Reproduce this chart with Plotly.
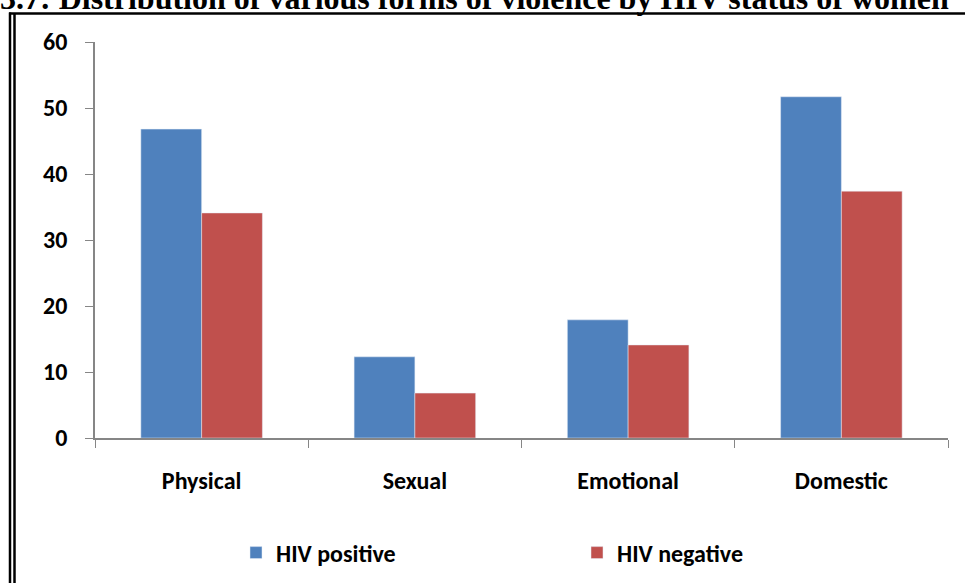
import plotly.graph_objects as go

BLUE = "#4F81BD"
RED = "#C0504D"
AXIS = "#868686"

categories = ["Physical", "Sexual", "Emotional", "Domestic"]
hiv_positive = [46.8, 12.3, 17.9, 51.7]
hiv_negative = [34.1, 6.8, 14.1, 37.4]
y_ticks = [0, 10, 20, 30, 40, 50, 60]

W, H = 965, 583
L, R, T, B = 95, 17, 42, 145
PW, PH = W - L - R, H - T - B


def px_x(x):
    return (x - L) / PW


def px_y(y):
    return (H - B - y) / PH


FONT = dict(family="Calibri, Carlito, Lato, sans-serif", size=24, color="black", weight="bold")

fig = go.Figure()
fig.add_trace(go.Bar(x=categories, y=hiv_positive, name="HIV positive", marker=dict(color=BLUE)))
fig.add_trace(go.Bar(x=categories, y=hiv_negative, name="HIV negative", marker=dict(color=RED)))

fig.update_layout(
    width=W, height=H,
    margin=dict(l=L, r=R, t=T, b=B, autoexpand=False),
    paper_bgcolor="white", plot_bgcolor="white",
    barmode="group", bargap=0.43, bargroupgap=0,
    font=FONT,
    legend=dict(
        orientation="h", x=px_x(236), xanchor="left", y=px_y(553), yanchor="middle",
        entrywidth=296, font=FONT,
    ),
    xaxis=dict(
        showline=True, linecolor=AXIS, linewidth=1.5,
        ticks="outside", tickson="boundaries", ticklen=8, tickcolor=AXIS,
        ticklabelstandoff=20, showgrid=False,
    ),
    yaxis=dict(
        range=[0, 60], tickvals=y_ticks, showline=True, linecolor=AXIS, linewidth=1.5,
        ticks="outside", ticklen=8, tickcolor=AXIS, ticklabelstandoff=13,
        showgrid=False, zeroline=False,
    ),
    annotations=[dict(
        text="3.7: Distribution of various forms of violence by HIV status of women",
        xref="paper", yref="paper", x=px_x(-2), y=px_y(-2), xanchor="left", yanchor="middle",
        showarrow=False, font=dict(family="Times New Roman, Liberation Serif, serif", size=32,
                                   color="black", weight="bold"),
    )],
    shapes=[
        dict(type="line", xref="paper", yref="paper", x0=px_x(9), x1=px_x(W + 5),
             y0=px_y(13.5), y1=px_y(13.5), line=dict(color="black", width=2.5)),
        dict(type="line", xref="paper", yref="paper", x0=px_x(10), x1=px_x(10),
             y0=px_y(12.5), y1=px_y(H + 5), line=dict(color="black", width=2.5)),
        dict(type="line", xref="paper", yref="paper", x0=px_x(14.5), x1=px_x(14.5),
             y0=px_y(13.5), y1=px_y(H + 5), line=dict(color="black", width=2.5)),
    ],
)

fig.write_html("out.html", config={"displayModeBar": False},
               post_script="document.body.style.margin = '0';")
